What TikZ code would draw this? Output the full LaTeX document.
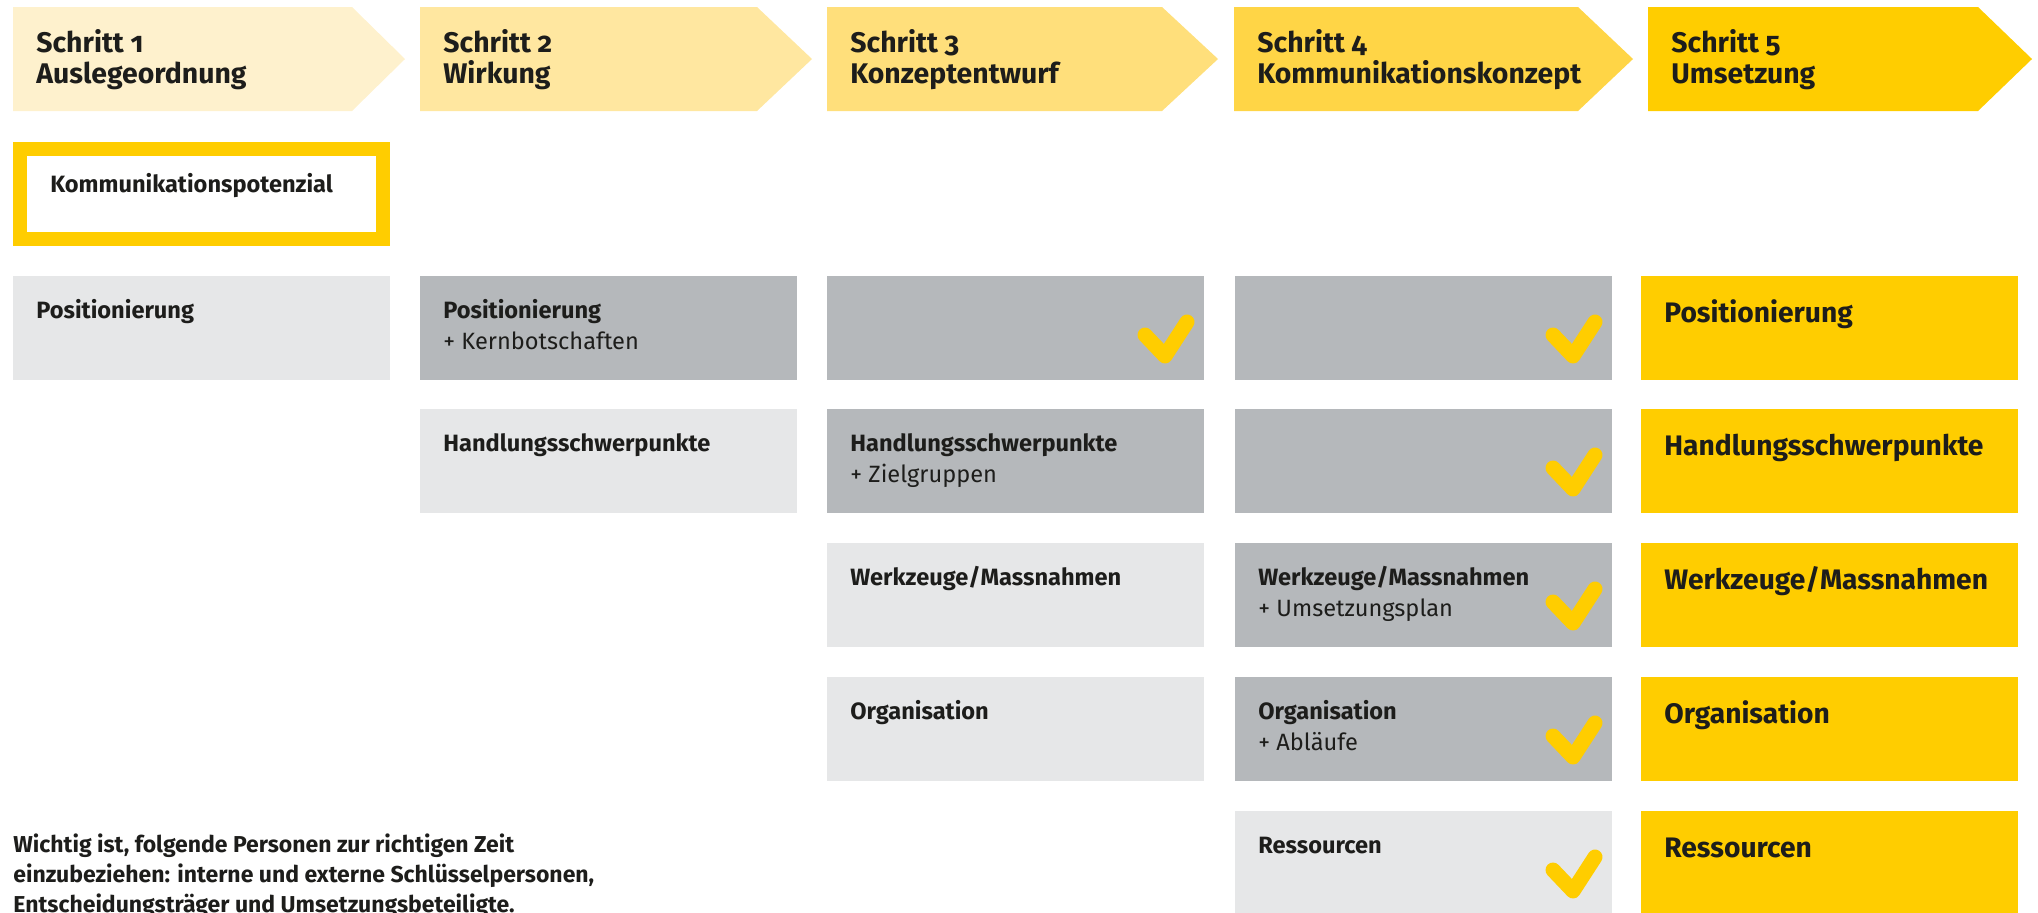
\documentclass[tikz,border=0pt]{standalone}
\usepackage{fontspec}
\setmainfont{Fira Sans}[Numbers=OldStyle]
\usetikzlibrary{calc}
\definecolor{arA}{HTML}{FEF1CD}
\definecolor{arB}{HTML}{FFE7A0}
\definecolor{arC}{HTML}{FFDF7B}
\definecolor{arD}{HTML}{FFD546}
\definecolor{yel}{HTML}{FFCD00}
\definecolor{lgray}{HTML}{E6E7E8}
\definecolor{dgray}{HTML}{B5B8BB}
\definecolor{ink}{HTML}{1D1D1B}
\tikzset{
  box/.style={rectangle, inner sep=0pt, outer sep=0pt, minimum width=188.5pt, minimum height=52pt, anchor=north west},
  lbl/.style={inner sep=0pt, anchor=base west, text=ink, font=\fontsize{11.8}{14}\selectfont\bfseries},
  sub/.style={inner sep=0pt, anchor=base west, text=ink, font=\fontsize{11.8}{14}\selectfont},
  note/.style={inner sep=0pt, anchor=base west, text=ink, font=\fontsize{11.5}{14}\selectfont\bfseries},
  big/.style={inner sep=0pt, anchor=base west, text=ink, font=\fontsize{14.1}{16}\selectfont\bfseries},
  head/.style={inner sep=0pt, anchor=base west, text=ink, font=\fontsize{14.2}{16}\selectfont\bfseries},
  tick/.style={draw=yel, line width=7.5pt, line cap=round, line join=round},
}
\begin{document}
\begin{tikzpicture}[x=0.5pt,y=-0.5pt]
\useasboundingbox (0,0) rectangle (2038,912);
\clip (0,0) rectangle (2038,912);
% step arrows
\foreach \i/\xs/\xb/\xt/\c/\ta/\tb in {
  1/13/352/405/arA/Schritt 1/Auslegeordnung,
  2/420/757/812/arB/Schritt 2/Wirkung,
  3/827/1162/1218/arC/Schritt 3/Konzeptentwurf,
  4/1234/1578/1633/arD/Schritt 4/Kommunikationskonzept,
  5/1648/1978/2032/yel/Schritt 5/Umsetzung}{
  \coordinate (s\i) at (\xs,7);
  \fill[\c] (s\i) -- (\xb,7) -- (\xt,59) -- (\xb,111) -- (\xs,111) -- cycle;
  \node[head] (h\i a) at ($(s\i)+(23,45)$) {\ta};
  \node[head] (h\i b) at ($(s\i)+(23,76)$) {\tb};
}
% Kommunikationspotenzial
\node[box, draw=yel, line width=7pt, minimum width=181.5pt, minimum height=45pt] (kp) at (20,149) {};
\node[lbl] (kpt) at ($(kp.north west)+(30,43)$) {Kommunikationspotenzial};
% boxes
\foreach \n/\x/\y/\c in {
  11/13/276/lgray, 12/420/276/dgray, 13/827/276/dgray, 14/1235/276/dgray, 15/1641/276/yel,
  22/420/409/lgray, 23/827/409/dgray, 24/1235/409/dgray, 25/1641/409/yel,
  33/827/543/lgray, 34/1235/543/dgray, 35/1641/543/yel,
  43/827/677/lgray, 44/1235/677/dgray, 45/1641/677/yel,
  54/1235/811/lgray, 55/1641/811/yel}{
  \node[box, fill=\c] (b\n) at (\x,\y) {};
}
% labels
\foreach \n/\t in {11/Positionierung, 12/Positionierung, 22/Handlungsschwerpunkte,
  23/Handlungsschwerpunkte, 33/Werkzeuge\slash Massnahmen, 34/Werkzeuge\slash Massnahmen,
  43/Organisation, 44/Organisation, 54/Ressourcen}{
  \node[lbl] (l\n) at ($(b\n.north west)+(23,42)$) {\t};
}
\foreach \n/\t in {12/+ Kernbotschaften, 23/+ Zielgruppen, 34/+ Umsetzungsplan, 44/+ Abläufe}{
  \node[sub] (u\n) at ($(b\n.north west)+(23,73)$) {\t};
}
\foreach \n/\t in {15/Positionierung, 25/Handlungsschwerpunkte, 35/Werkzeuge\slash Massnahmen,
  45/Organisation, 55/Ressourcen}{
  \node[big] (l\n) at ($(b\n.north west)+(23,46)$) {\t};
}
% ticks
\foreach \n in {13,14,24,34,44,54}{
  \draw[tick] ($(b\n.north west)+(318,59)$) -- ($(b\n.north west)+(338,80)$) -- ($(b\n.north west)+(360,46)$);
}
% note
\node[note] (n1) at (13,852) {Wichtig ist, folgende Personen zur richtigen Zeit};
\node[note] (n2) at (13,882) {einzubeziehen: interne und externe Schlüsselpersonen,};
\node[note] (n3) at (13,912) {Entscheidungsträger und Umsetzungsbeteiligte.};
\end{tikzpicture}
\end{document}
